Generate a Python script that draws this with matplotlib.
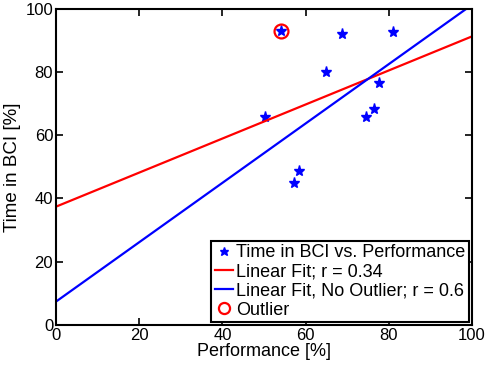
import matplotlib.pyplot as plt
import numpy as np

plt.rcParams['font.family'] = ['Liberation Sans', 'DejaVu Sans']

# data
performance = [54.1, 68.8, 81.1, 64.8, 77.7, 50.2, 76.4, 74.4, 58.4, 57.1]
time_in_bci = [92.8, 92.1, 92.5, 79.9, 76.6, 65.7, 68.4, 65.7, 48.7, 44.8]
outlier_x = [54.1]
outlier_y = [92.8]

# fitted lines (end points)
fit_x = [0, 100]
fit_all = [37.4, 91.2]
fit_no_outlier = [7.4, 101.2]

fig = plt.figure(figsize=(4.9, 3.68), dpi=100)
ax = fig.add_axes([0.1143, 0.1168, 0.8490, 0.8600])

ax.plot(performance, time_in_bci, linestyle="none", marker="*", color="blue",
        markersize=8, label="Time in BCI vs. Performance")
ax.plot(fit_x, fit_all, color="red", lw=1.6, label="Linear Fit; r = 0.34")
ax.plot(fit_x, fit_no_outlier, color="blue", lw=1.6,
        label="Linear Fit, No Outlier; r = 0.6")
ax.plot(outlier_x, outlier_y, linestyle="none", marker="o", markersize=10,
        markerfacecolor="none", markeredgecolor="red", markeredgewidth=1.6,
        label="Outlier")

ax.set_xlim(0, 100)
ax.set_ylim(0, 100)
ax.set_xticks(np.arange(0, 101, 20))
ax.set_yticks(np.arange(0, 101, 20))
ax.tick_params(direction="in", top=True, right=True, labelsize=12,
               length=5, width=1.2, pad=2)
for s in ax.spines.values():
    s.set_linewidth(1.5)

ax.set_xlabel("Performance [%]", fontsize=13, labelpad=0)
ax.set_ylabel("Time in BCI [%]", fontsize=13.5, labelpad=3)

leg = ax.legend(loc="lower right", fontsize=13, handlelength=1.0,
                handletextpad=0.2, borderpad=0.2, labelspacing=0.12,
                borderaxespad=0.15, fancybox=False, framealpha=1,
                markerscale=0.8)
leg.get_frame().set_edgecolor("black")
leg.get_frame().set_linewidth(1.5)

fig.savefig("out.png", dpi=100)
